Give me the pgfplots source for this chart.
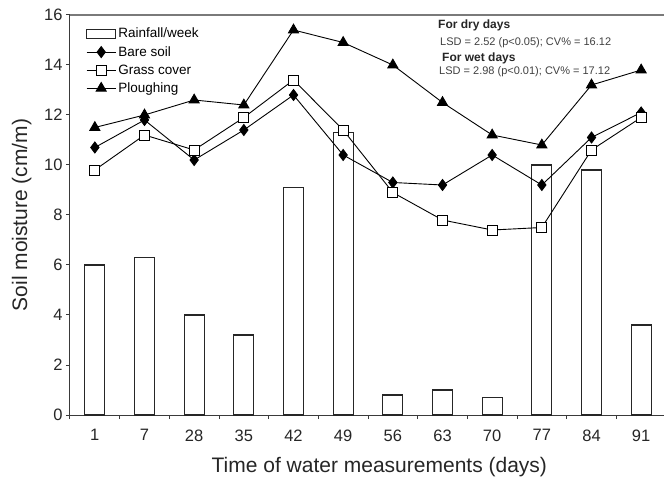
\documentclass[border=0pt]{standalone}
\usepackage{fontspec}
\setmainfont{Liberation Sans}
\usepackage{pgfplots}
\pgfplotsset{compat=1.18}
\definecolor{axgray}{HTML}{3A3A3A}
\definecolor{topgray}{HTML}{7A7A7A}
\begin{document}
\begin{tikzpicture}
\begin{axis}[
  name=ax,
  scale only axis,
  width=596bp, height=400bp,
  xmin=-0.5, xmax=11.5, ymin=0, ymax=16,
  axis x line*=bottom, axis y line*=left,
  axis line style={axgray, line width=1bp},
  ytick={0,2,...,16},
  xtick={-0.5,0.5,...,11.5},
  xticklabels={},
  extra x ticks={0,1,...,11},
  extra x tick labels={1,7,28,35,42,49,56,63,70,77,84,91},
  extra x tick style={major tick length=0pt, tick label style={yshift=-11bp}},
  tick align=outside,
  major tick length=4bp,
  tick style={axgray, line width=1bp},
  /pgf/number format/assume math mode=true,
  tick label style={font=\fontsize{16.5bp}{18bp}\selectfont, text=black!85},
  xlabel={Time of water measurements (days)},
  ylabel={Soil moisture (cm/m)},
  x label style={at={(axis description cs:0.519,-0.13)}, anchor=center, font=\fontsize{21bp}{24bp}\selectfont, text=black!85},
  y label style={at={(axis description cs:-0.081,0.5)}, anchor=center, font=\fontsize{21bp}{24bp}\selectfont, text=black!85},
  legend style={at={(rel axis cs:0.025,0.975)}, anchor=north west, draw=none, fill=none,
    font=\fontsize{13.5bp}{15bp}\selectfont, row sep=3bp, inner sep=1bp},
  legend cell align=left,
  legend image code/.code={\draw[mark repeat=2,mark phase=2,#1] plot coordinates {(0bp,0bp) (14.5bp,0bp) (29bp,0bp)};},
  clip=false,
]
\addplot[ybar, bar width=20bp, bar shift=0pt, draw=black!85, fill=white, line width=1.2bp,
  legend image code/.code={\draw[black!85, line width=1.2bp, fill=white] (0bp,-4.5bp) rectangle (29bp,4.5bp);}]
  coordinates {(0,6.0) (1,6.3) (2,4.0) (3,3.2) (4,9.1) (5,11.3) (6,0.8) (7,1.0) (8,0.7) (9,10.0) (10,9.8) (11,3.6)};
\addlegendentry{Rainfall/week}
\addplot[black, line width=0.9bp, mark=diamond*, mark size=5.5bp, mark options={fill=black}]
  coordinates {(0,10.7) (1,11.8) (2,10.2) (3,11.4) (4,12.8) (5,10.4) (6,9.3) (7,9.2) (8,10.4) (9,9.2) (10,11.1) (11,12.1)};
\addlegendentry{Bare soil}
\addplot[black, line width=0.9bp, mark=square*, mark size=5bp, mark options={fill=white, line width=0.9bp}]
  coordinates {(0,9.8) (1,11.2) (2,10.6) (3,11.9) (4,13.4) (5,11.4) (6,8.9) (7,7.8) (8,7.4) (9,7.5) (10,10.6) (11,11.9)};
\addlegendentry{Grass cover}
\addplot[black, line width=0.9bp, mark=triangle*, mark size=5.8bp, mark options={fill=black}]
  coordinates {(0,11.5) (1,12.0) (2,12.6) (3,12.4) (4,15.4) (5,14.9) (6,14.0) (7,12.5) (8,11.2) (9,10.8) (10,13.2) (11,13.8)};
\addlegendentry{Ploughing}
\draw[topgray, line width=2bp] (rel axis cs:0,1) -- (rel axis cs:1,1);
\node[anchor=west, inner sep=0pt, font=\bfseries\fontsize{12bp}{14bp}\selectfont, text=black!85] at (axis cs:6.91,15.6) {For dry days};
\node[anchor=west, inner sep=0pt, font=\fontsize{11bp}{13bp}\selectfont, text=black!75] at (axis cs:6.95,14.88) {LSD = 2.52 (p<0.05); CV\% = 16.12};
\node[anchor=west, inner sep=0pt, font=\bfseries\fontsize{12bp}{14bp}\selectfont, text=black!85] at (axis cs:6.99,14.28) {For wet days};
\node[anchor=west, inner sep=0pt, font=\fontsize{11bp}{13bp}\selectfont, text=black!75] at (axis cs:6.93,13.72) {LSD = 2.98 (p<0.01); CV\% = 17.12};
\end{axis}
\pgfresetboundingbox
\path ([xshift=-70bp,yshift=-66bp]ax.south west) rectangle ([xshift=594bp,yshift=15bp]ax.north west);
\end{tikzpicture}
\end{document}
